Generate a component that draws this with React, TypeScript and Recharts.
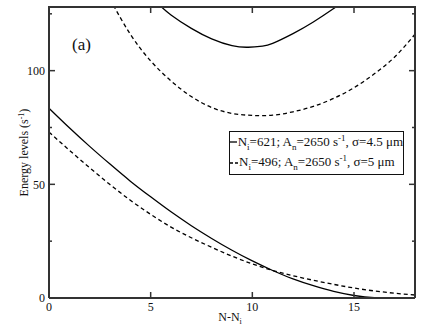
import { LineChart, Line, XAxis, YAxis } from 'recharts'

const FONT = '"Liberation Serif", "Times New Roman", serif'
const FRAME = '#333'
const TEXT = '#111'

// plot box geometry, used to mirror ticks and close the frame on top/right
const PLOT_LEFT = 49
const PLOT_TOP = 7
const PLOT_W = 366
const PLOT_H = 291

// lower branch, Ni=621 (solid)
const lowX621 = [0, 1, 2, 3, 4, 5, 6, 7, 8, 9, 10, 11, 12, 13, 14, 15, 16, 16.3]
const lowY621 = [83.5, 74.9, 66.7, 58.9, 51.4, 44.5, 37.9, 31.8, 26.2, 21.0, 16.3, 12.1, 8.4, 5.4, 2.9, 1.1, 0.1, 0]

// lower branch, Ni=496 (dashed)
const lowX496 = [0, 1, 2, 3, 4, 5, 6, 7, 8, 9, 10, 11, 12, 13, 14, 15, 16, 17, 18]
const lowY496 = [73, 65, 57.3, 49.9, 43, 36.8, 31.2, 26.5, 22.3, 18.4, 15, 12.1, 9.8, 7.8, 6.0, 4.4, 3.1, 2.1, 1.3]

// upper branch, Ni=621 (solid)
const upX621 = [5.4, 6, 7, 8, 9, 9.8, 10.5, 11, 12, 13, 14, 14.4]
const upY621 = [129.1, 124.5, 118.6, 114, 111, 110.3, 110.8, 112, 116.3, 121.4, 127.3, 130]

// upper branch, Ni=496 (dashed)
const upX496 = [3, 4, 5, 6, 7, 8, 9, 10, 11, 12, 13, 14, 15, 16, 17, 18]
const upY496 = [131.5, 116, 104.3, 95.5, 88.6, 83.8, 81.2, 80.3, 80.4, 81.9, 84.3, 87.8, 92.5, 98.6, 106, 116]

const xTicks = [0, 5, 10, 15]
const yTicks = [0, 25, 50, 75, 100, 125]
const yLabelled = [0, 50, 100]

const toPoints = (xs: number[], ys: number[]) => xs.map((x, i) => ({ x, y: ys[i] }))

const tickLen = (v: number) => (yLabelled.includes(v) ? 6 : 3)

function LeftTick({ x, y, payload }: any) {
  const v = payload.value
  const len = tickLen(v)
  return (
    <g stroke={FRAME} strokeWidth={1.5}>
      <line x1={x} x2={x + len} y1={y} y2={y} />
      <line x1={x + PLOT_W} x2={x + PLOT_W - len} y1={y} y2={y} />
      {yLabelled.includes(v) && (
        <text x={x - 4} y={y} dy="0.35em" textAnchor="end" fontSize={12} fontFamily={FONT} stroke="none" style={{ fill: TEXT }}>
          {v}
        </text>
      )}
    </g>
  )
}

function BottomTick({ x, y, payload }: any) {
  return (
    <g stroke={FRAME} strokeWidth={1.5}>
      <line x1={x} x2={x} y1={y} y2={y - 6} />
      <line x1={x} x2={x} y1={y - PLOT_H} y2={y - PLOT_H + 6} />
      <text x={x} y={y + 13} textAnchor="middle" fontSize={12} fontFamily={FONT} stroke="none" style={{ fill: TEXT }}>
        {payload.value}
      </text>
    </g>
  )
}

function XTitle({ viewBox }: any) {
  const { x, y, width } = viewBox
  return (
    <text x={x + width / 2 - 2} y={y + 23} textAnchor="middle" fontSize={12} fontFamily={FONT} style={{ fill: TEXT }}>
      N-N<tspan dy={3} fontSize={8}>i</tspan>
    </text>
  )
}

function YTitle({ viewBox }: any) {
  const { x, y, height } = viewBox
  const cx = x + 28
  const cy = y + height / 2
  return (
    <text
      x={cx}
      y={cy}
      transform={`rotate(-90 ${cx} ${cy})`}
      textAnchor="middle"
      fontSize={12}
      fontFamily={FONT}
      style={{ fill: TEXT }}
    >
      Energy levels (s<tspan dy={-4} fontSize={8}>-1</tspan>
      <tspan dy={4}>)</tspan>
    </text>
  )
}

function LegendRow({ dashed, ni, sigma }: { dashed?: boolean; ni: number; sigma: number }) {
  return (
    <div style={{ display: 'flex', alignItems: 'center', height: 20.5, whiteSpace: 'nowrap' }}>
      <svg width={8} height={4} style={{ marginRight: 1 }}>
        <line x1={0} x2={8} y1={2} y2={2} stroke="#000" strokeWidth={1.3} strokeDasharray={dashed ? '3 2' : undefined} />
      </svg>
      <span>
        N<sub style={{ fontSize: 9 }}>i</sub>={ni}; A<sub style={{ fontSize: 9 }}>n</sub>=2650 s
        <sup style={{ fontSize: 9 }}>-1</sup>, σ={sigma} μm
      </span>
    </div>
  )
}

export default function App() {
  return (
    <div style={{ position: 'absolute', left: 0, top: 0, width: 423, height: 327, background: '#fff', fontFamily: FONT }}>
      <LineChart width={423} height={327} margin={{ top: PLOT_TOP, right: 8, bottom: 0, left: 0 }}>
        <XAxis
          dataKey="x"
          type="number"
          domain={[0, 18]}
          ticks={xTicks}
          height={29}
          tickSize={0}
          tickMargin={0}
          tickLine={false}
          tick={<BottomTick />}
          axisLine={{ stroke: FRAME, strokeWidth: 2 }}
          label={<XTitle />}
        />
        <YAxis
          type="number"
          domain={[0, 128]}
          allowDataOverflow
          ticks={yTicks}
          width={PLOT_LEFT}
          tickSize={0}
          tickMargin={0}
          tickLine={false}
          tick={<LeftTick />}
          axisLine={{ stroke: FRAME, strokeWidth: 2 }}
          label={<YTitle />}
        />
        <Line data={toPoints(lowX621, lowY621)} dataKey="y" type="monotone" stroke="#000" strokeWidth={1.3} dot={false} isAnimationActive={false} />
        <Line data={toPoints(lowX496, lowY496)} dataKey="y" type="monotone" stroke="#000" strokeWidth={1.3} strokeDasharray="4 3" dot={false} isAnimationActive={false} />
        <Line data={toPoints(upX621, upY621)} dataKey="y" type="natural" stroke="#000" strokeWidth={1.3} dot={false} isAnimationActive={false} />
        <Line data={toPoints(upX496, upY496)} dataKey="y" type="natural" stroke="#000" strokeWidth={1.3} strokeDasharray="4 3" dot={false} isAnimationActive={false} />
      </LineChart>

      {/* top and right edges of the frame */}
      <div
        style={{
          position: 'absolute',
          left: PLOT_LEFT - 1,
          top: PLOT_TOP - 1,
          width: PLOT_W + 2,
          height: PLOT_H + 1,
          boxSizing: 'border-box',
          borderTop: `2.5px solid ${FRAME}`,
          borderRight: `2px solid ${FRAME}`,
          pointerEvents: 'none',
          zIndex: 2,
        }}
      />

      <div style={{ position: 'absolute', left: 72, top: 36, fontSize: 17, lineHeight: '18px', color: TEXT }}>(a)</div>

      <div
        style={{
          position: 'absolute',
          left: 229,
          top: 131,
          width: 175,
          height: 44,
          boxSizing: 'border-box',
          border: `1.5px solid ${TEXT}`,
          background: '#fff',
          fontSize: 13,
          color: TEXT,
          lineHeight: '12px',
        }}
      >
        <LegendRow ni={621} sigma={4.5} />
        <LegendRow dashed ni={496} sigma={5} />
      </div>
    </div>
  )
}
